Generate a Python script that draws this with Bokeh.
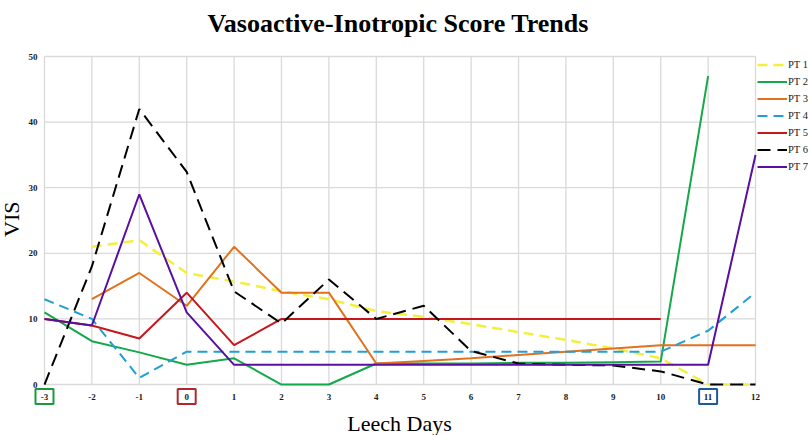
import math
from bokeh.plotting import figure
from bokeh.models import Range1d, Legend, LegendItem
from bokeh.core.properties import value
from bokeh.embed import file_html
from bokeh.resources import INLINE

nan = float("nan")

# ---- data ----
days = list(range(-3, 13))
pt1 = [nan, 21, 22, 17, 15.7, 14.2, 13, 11.2, 10.3, 9.2, 8, 6.8, 5.5, 4, 0, 0]
pt2 = [11, 6.6, 4.9, 3, 4, 0, 0, 3.2, 3.2, 3.2, 3.3, 3.3, 3.4, 3.5, 47, nan]
pt3 = [nan, 13, 17, 12, 21, 14, 14, 3.2, 3.6, 4, 4.5, 5, 5.5, 6, 6, 6]
pt4 = [13, 10, 1, 5, 5, 5, 5, 5, 5, 5, 5, 5, 5, 5, 8.2, 14]
pt5 = [10, 9, 7, 14, 6, 10, 10, 10, 10, 10, 10, 10, 10, 10, nan, nan]
pt6 = [0, 18, 42, 32.4, 14.2, 9.3, 16, 10, 12, 5.1, 3.2, 3, 2.9, 2, 0, 0]
pt7 = [10, 9, 29, 11, 3, 3, 3, 3, 3, 3, 3, 3, 3, 3, 3, 35]

names = ["PT 1", "PT 2", "PT 3", "PT 4", "PT 5", "PT 6", "PT 7"]
y_ticks = [0, 10, 20, 30, 40, 50]
x_labels = [str(d) for d in days]
boxed_days = [-3, 0, 11]
box_colors = ["#1a9a3f", "#b0282c", "#1d5a9a"]

TITLE = "Vasoactive-Inotropic Score Trends"
X_TITLE = "Leech Days"
Y_TITLE = "VIS"

series = [pt1, pt2, pt3, pt4, pt5, pt6, pt7]
colors = ["#f3ef3c", "#14a84a", "#e2711d", "#1f9fd3", "#c8161d", "#000000", "#5a0fa0"]
dashes = ["10 6", "solid", "solid", "10 6", "solid", "13 7", "solid"]
widths = [2.5, 2, 2, 2, 2, 2, 2]

SERIF = "Liberation Serif"
GRID = "#d9d9d9"
INK = "#1a1a1a"

X0, X1 = days[0], days[-1]
Y0, Y1 = y_ticks[0], y_ticks[-1]

# text anchors (data units, outside the plotted area)
TICK_ROW = -1.83
XLABEL_X, XLABEL_ROW = 4.49, -5.95
VIS_X, VIS_Y = -3.69, 25.2
TITLE_X, TITLE_Y = 4.46, 55.0

W, H = 810, 435
p = figure(width=W, height=H, output_backend="svg", toolbar_location=None,
           x_range=Range1d(-3.928, 13.16), y_range=Range1d(-7.774, 58.54),
           min_border_left=0, min_border_right=0, min_border_top=0,
           min_border_bottom=0, outline_line_color=None)
p.xaxis.visible = False
p.yaxis.visible = False
p.grid.visible = False

# gridlines
p.segment(x0=days, y0=[Y0] * len(days), x1=days, y1=[Y1] * len(days),
          line_color=GRID, line_width=1.3)
p.segment(x0=[X0] * len(y_ticks), y0=y_ticks, x1=[X1] * len(y_ticks), y1=y_ticks,
          line_color=GRID, line_width=1.3)

items = []
for name, ys, c, d, w in zip(names, series, colors, dashes, widths):
    r = p.line(days, ys, line_color=c, line_dash=d, line_width=w)
    items.append(LegendItem(label=name, renderers=[r]))

legend = Legend(items=items, location=(757, 260), margin=0, padding=0,
                spacing=0, glyph_width=30, glyph_height=17, label_standoff=1,
                label_text_font=SERIF, label_text_font_size="10.5px",
                label_text_color=INK, label_height=17,
                border_line_color=None, background_fill_alpha=0)
p.add_layout(legend)

# x tick labels
p.text(x=days, y=[TICK_ROW] * len(days), text=x_labels, text_align="center",
       text_baseline="middle", text_font=value(SERIF), text_font_size="9px",
       text_font_style="bold", text_color=INK)
p.rect(x=boxed_days, y=[TICK_ROW] * len(boxed_days), width=18, height=15,
       width_units="screen", height_units="screen", fill_color=None,
       line_color=box_colors, line_width=2)

# y tick labels
p.text(x=[X0] * len(y_ticks), y=y_ticks, text=[str(t) for t in y_ticks],
       x_offset=-7, text_align="right", text_baseline="middle",
       text_font=value(SERIF), text_font_size="9px", text_font_style="bold",
       text_color=INK)

# titles
p.text(x=[TITLE_X], y=[TITLE_Y], text=[TITLE], text_align="center",
       text_baseline="alphabetic", text_font=value(SERIF), text_font_size="26px",
       text_font_style="bold", text_color="#000000")
p.text(x=[VIS_X], y=[VIS_Y], text=[Y_TITLE], angle=math.pi / 2, text_align="center",
       text_baseline="middle", text_font=value(SERIF), text_font_size="22px",
       text_color="#000000")
p.text(x=[XLABEL_X], y=[XLABEL_ROW], text=[X_TITLE], text_align="center",
       text_baseline="alphabetic", text_font=value(SERIF), text_font_size="22px",
       text_color="#000000")

open("out.html", "w").write(file_html(p, INLINE))
